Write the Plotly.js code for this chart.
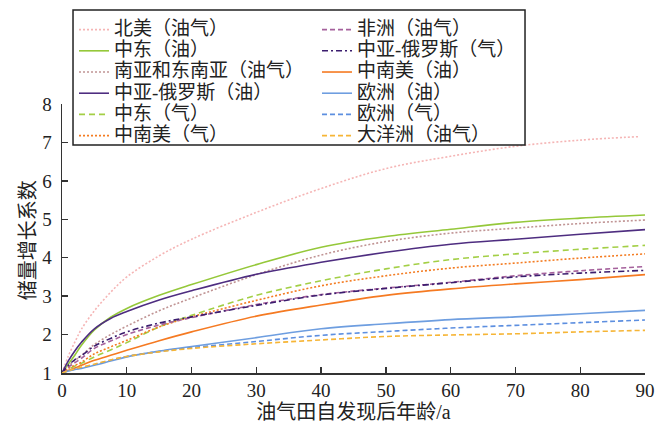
<!DOCTYPE html>
<html>
<head>
<meta charset="utf-8">
<script src="https://cdn.plot.ly/plotly-3.0.1.min.js"></script>
<style>html,body{margin:0;padding:0;background:#fff;}#chart{width:672px;height:427px;}</style>
</head>
<body>
<div id="chart"></div>
<script>
// Age after discovery (years)
const ages = [0, 1, 2, 3, 5, 7.5, 10, 15, 20, 30, 40, 50, 60, 70, 80, 90];
const agesNA = [0, 1, 2, 3, 5, 7.5, 10, 15, 20, 30, 40, 50, 60, 70, 80, 89];

// Legend labels, left column then right column
const leftNames = ["北美（油气）", "中东（油）", "南亚和东南亚（油气）", "中亚-俄罗斯（油）", "中东（气）", "中南美（气）"];
const rightNames = ["非洲（油气）", "中亚-俄罗斯（气）", "中南美（油）", "欧洲（油）", "欧洲（气）", "大洋洲（油气）"];

// Reserve growth factors (left column series)
const northAmerica   = [1, 1.45, 1.81, 2.14, 2.62, 3.10, 3.50, 4.05, 4.48, 5.18, 5.80, 6.32, 6.64, 6.90, 7.06, 7.15];
const middleEastOil  = [1, 1.24, 1.47, 1.72, 2.12, 2.45, 2.68, 3.02, 3.30, 3.82, 4.27, 4.55, 4.74, 4.92, 5.03, 5.11];
const southAsia      = [1, 1.18, 1.33, 1.46, 1.74, 2.00, 2.22, 2.62, 2.95, 3.56, 4.07, 4.42, 4.64, 4.77, 4.89, 4.98];
const cisOil         = [1, 1.32, 1.58, 1.80, 2.15, 2.42, 2.60, 2.90, 3.14, 3.57, 3.88, 4.14, 4.35, 4.48, 4.61, 4.73];
const middleEastGas  = [1, 1.10, 1.18, 1.25, 1.42, 1.60, 1.79, 2.20, 2.50, 3.02, 3.40, 3.71, 3.95, 4.10, 4.22, 4.32];
const latAmGas       = [1, 1.12, 1.20, 1.28, 1.50, 1.68, 1.85, 2.20, 2.46, 2.89, 3.27, 3.53, 3.73, 3.86, 3.99, 4.10];
// Reserve growth factors (right column series)
const africa         = [1, 1.15, 1.27, 1.38, 1.64, 1.83, 2.00, 2.25, 2.44, 2.78, 3.04, 3.21, 3.36, 3.53, 3.66, 3.77];
const cisGas         = [1, 1.20, 1.35, 1.45, 1.70, 1.90, 2.07, 2.30, 2.46, 2.76, 3.03, 3.20, 3.35, 3.50, 3.60, 3.67];
const latAmOil       = [1, 1.07, 1.13, 1.20, 1.33, 1.46, 1.59, 1.84, 2.07, 2.48, 2.77, 3.02, 3.19, 3.32, 3.43, 3.56];
const europeOil      = [1, 1.05, 1.09, 1.12, 1.20, 1.31, 1.42, 1.57, 1.69, 1.92, 2.15, 2.28, 2.39, 2.46, 2.54, 2.63];
const europeGas      = [1, 1.06, 1.10, 1.14, 1.22, 1.33, 1.43, 1.56, 1.66, 1.82, 1.98, 2.08, 2.17, 2.24, 2.31, 2.38];
const oceania        = [1, 1.06, 1.11, 1.15, 1.23, 1.34, 1.43, 1.55, 1.64, 1.76, 1.86, 1.95, 1.99, 2.02, 2.07, 2.11];

const xTicks = [0, 10, 20, 30, 40, 50, 60, 70, 80, 90];
const yTicks = [1, 2, 3, 4, 5, 6, 7, 8];
const xTitle = '油气田自发现后年龄/a';
const yTitle = '储量增长系数';

function lbl(s) { return '<span style="font-size:19px">' + s + '</span>'; }
function tr(x, y, name, color, dash, legend) {
  return {x: x, y: y, name: lbl(name), type: 'scatter', mode: 'lines', legend: legend,
    line: {color: color, width: 1.6, dash: dash, shape: 'spline', smoothing: 1}};
}

const data = [
  tr(agesNA, northAmerica, leftNames[0], '#f5b5b5', '2px,2px', 'legend'),
  tr(ages, middleEastOil, leftNames[1], '#95c83a', 'solid', 'legend'),
  tr(ages, southAsia, leftNames[2], '#c09494', '2px,2px', 'legend'),
  tr(ages, cisOil, leftNames[3], '#4e2d80', 'solid', 'legend'),
  tr(ages, middleEastGas, leftNames[4], '#a3cf45', '6px,4px', 'legend'),
  tr(ages, latAmGas, leftNames[5], '#f47c22', '2px,2px', 'legend'),
  tr(ages, africa, rightNames[0], '#a5619c', '5px,3px', 'legend2'),
  tr(ages, cisGas, rightNames[1], '#3b1d6e', '6px,3px,2px,3px', 'legend2'),
  tr(ages, latAmOil, rightNames[2], '#f57a22', 'solid', 'legend2'),
  tr(ages, europeOil, rightNames[3], '#6e9ee0', 'solid', 'legend2'),
  tr(ages, europeGas, rightNames[4], '#5d8fe0', '5px,3px', 'legend2'),
  tr(ages, oceania, rightNames[5], '#f6b536', '5px,3px', 'legend2')
];

const serif = 'Liberation Serif, Noto Sans CJK SC, serif';
const legFont = {family: serif, size: 14, color: '#222'};

const layout = {
  width: 672, height: 427,
  margin: {l: 62, r: 27, t: 104, b: 54},
  paper_bgcolor: '#fff', plot_bgcolor: '#fff',
  font: {family: serif, color: '#222'},
  xaxis: {
    range: [0, 90], tickvals: xTicks, ticktext: xTicks.map(String),
    showline: true, linecolor: '#333', linewidth: 1.5, ticks: 'inside', ticklen: 6, tickwidth: 1.3, tickcolor: '#333',
    showgrid: false, zeroline: false, tickfont: {family: serif, size: 19, color: '#222'},
    title: {text: xTitle, font: {family: serif, size: 20, color: '#222'}, standoff: 4}
  },
  yaxis: {
    range: [1, 8], tickvals: yTicks, ticktext: yTicks.map(String),
    showline: true, linecolor: '#333', linewidth: 1.5, ticks: 'inside', ticklen: 6, tickwidth: 1.3, tickcolor: '#333',
    showgrid: false, zeroline: false, tickfont: {family: serif, size: 19, color: '#222'},
    ticklabelstandoff: 5
  },
  annotations: [{text: yTitle, xref: 'paper', yref: 'paper', x: -0.0583, y: 0.494, xanchor: 'center', yanchor: 'middle',
                 textangle: -90, showarrow: false, font: {family: serif, size: 20, color: '#222'}}],
  showlegend: true,
  // legend frame (white box enclosing both legend columns)
  shapes: [{type: 'rect', xref: 'paper', yref: 'paper', x0: 0.0189, x1: 0.7942, y0: 0.8476, y1: 1.3494,
            fillcolor: '#fff', line: {color: '#222', width: 1.5}, layer: 'above'}],
  legend: {
    orientation: 'v', x: 0.0206, y: 1.3345, xanchor: 'left', yanchor: 'top',
    bgcolor: 'rgba(0,0,0,0)', borderwidth: 0, font: legFont, itemwidth: 30
  },
  legend2: {
    orientation: 'v', x: 0.4374, y: 1.3345, xanchor: 'left', yanchor: 'top',
    bgcolor: 'rgba(0,0,0,0)', borderwidth: 0, font: legFont, itemwidth: 30
  }
};

Plotly.newPlot('chart', data, layout, {displayModeBar: false, staticPlot: true});
</script>
</body>
</html>
